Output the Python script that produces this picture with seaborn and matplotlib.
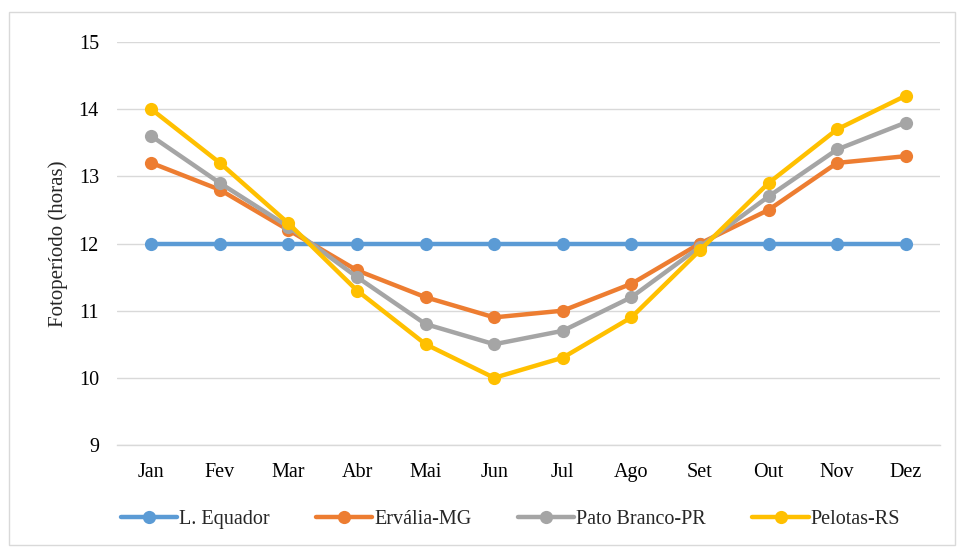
import matplotlib
matplotlib.use("Agg")
import matplotlib.pyplot as plt
import seaborn as sns
import pandas as pd
from matplotlib.patches import Rectangle

meses = ["Jan", "Fev", "Mar", "Abr", "Mai", "Jun", "Jul", "Ago", "Set", "Out", "Nov", "Dez"]
equador = [12, 12, 12, 12, 12, 12, 12, 12, 12, 12, 12, 12]
ervalia = [13.2, 12.8, 12.2, 11.6, 11.2, 10.9, 11.0, 11.4, 12.0, 12.5, 13.2, 13.3]
pato_branco = [13.6, 12.9, 12.25, 11.5, 10.8, 10.5, 10.7, 11.2, 11.95, 12.7, 13.4, 13.8]
pelotas = [14.0, 13.2, 12.3, 11.3, 10.5, 10.0, 10.3, 10.9, 11.9, 12.9, 13.7, 14.2]

names = ["L. Equador", "Ervália-MG", "Pato Branco-PR", "Pelotas-RS"]
values = [equador, ervalia, pato_branco, pelotas]
colors = ["#5B9BD5", "#ED7D31", "#A5A5A5", "#FFC000"]

rows = []
for name, vals in zip(names, values):
    for i, (m, v) in enumerate(zip(meses, vals)):
        rows.append({"Mes": m, "idx": i, "Serie": name, "Valor": v})
df = pd.DataFrame(rows)

sns.set_theme(style="white")
plt.rcParams["font.family"] = ["Liberation Serif", "DejaVu Serif"]

fig = plt.figure(figsize=(9.57, 5.47), dpi=100)
ax = fig.add_axes([117 / 957, 1 - 445 / 547, (940 - 117) / 957, (445 - 42) / 547])

sns.lineplot(data=df, x="idx", y="Valor", hue="Serie", hue_order=names,
             palette=colors, marker="o", markersize=9.5, markeredgewidth=0,
             linewidth=3.2, ax=ax, legend=True, sort=False)

ax.set_xlim(-0.5, 11.5)
ax.set_ylim(9, 15)
ax.set_xticks(range(12))
ax.set_xticklabels(meses)
ax.set_yticks(range(9, 16))
ax.yaxis.grid(True, color="#D9D9D9", linewidth=1)
ax.set_axisbelow(True)
for s in ["top", "right", "left"]:
    ax.spines[s].set_visible(False)
ax.spines["bottom"].set_color("#D9D9D9")
ax.spines["bottom"].set_linewidth(1)
ax.tick_params(axis="x", length=0, labelsize=14.5, colors="#000000", pad=13)
ax.tick_params(axis="y", length=0, labelsize=14.5, colors="#000000", pad=13)
ax.set_xlabel("")
ax.set_ylabel("Fotoperíodo (horas)", fontsize=15, labelpad=8)

handles, labels = ax.get_legend_handles_labels()
ax.legend(handles, labels, loc="center", bbox_to_anchor=(0.478, -0.185),
          ncol=4, frameon=False, fontsize=14.5, handlelength=2.8,
          handletextpad=0.1, columnspacing=2.3)

fig.patches.append(Rectangle((9 / 957, 1 - 545 / 547), 946 / 957, 533 / 547,
                             transform=fig.transFigure, fill=False,
                             edgecolor="#D9D9D9", linewidth=1))

fig.savefig("out.png", dpi=100)
